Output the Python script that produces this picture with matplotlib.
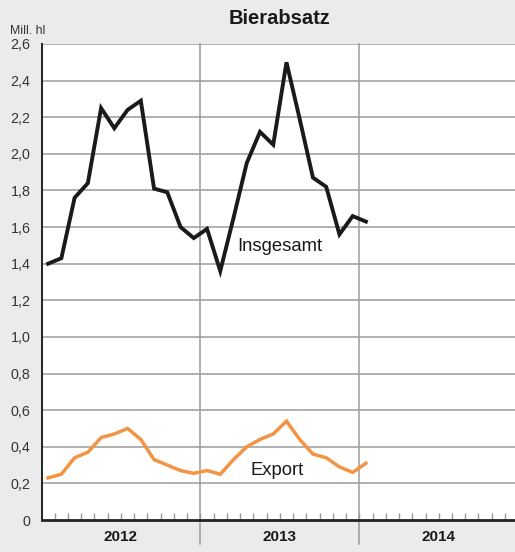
import matplotlib
matplotlib.use("Agg")
import matplotlib.pyplot as plt
import matplotlib.transforms as mtransforms

plt.rcParams['font.family'] = ['Liberation Sans', 'DejaVu Sans']

title = "Bierabsatz"
unit_label = "Mill. hl"
years = ["2012", "2013", "2014"]
insgesamt = [1.40, 1.43, 1.76, 1.84, 2.25, 2.14, 2.24, 2.29, 1.81, 1.79, 1.60, 1.54,
             1.59, 1.36, 1.65, 1.95, 2.12, 2.05, 2.50, 2.19, 1.87, 1.82, 1.56, 1.66,
             1.63]
export = [0.23, 0.25, 0.34, 0.37, 0.45, 0.47, 0.50, 0.44, 0.33, 0.30, 0.27, 0.255,
          0.27, 0.25, 0.33, 0.40, 0.44, 0.47, 0.54, 0.44, 0.36, 0.34, 0.29, 0.26,
          0.31]
y_ticks = [0, 0.2, 0.4, 0.6, 0.8, 1.0, 1.2, 1.4, 1.6, 1.8, 2.0, 2.2, 2.4, 2.6]
y_tick_labels = ["0", "0,2", "0,4", "0,6", "0,8", "1,0", "1,2", "1,4", "1,6", "1,8",
                 "2,0", "2,2", "2,4", "2,6"]
series_labels = ["Insgesamt", "Export"]

W, H = 515, 552
fig = plt.figure(figsize=(W / 100, H / 100), dpi=100)
bg = "#ebebed"
fig.patch.set_facecolor(bg)

left_px, top_px, bottom_px = 41.5, 44, 520
ax = fig.add_axes([left_px / W, (H - bottom_px) / H, (W - left_px) / W,
                   (bottom_px - top_px) / H])
ax.set_facecolor("white")
month_px = 158.9 / 12
ax.set_xlim(0, (W - left_px) / month_px)
ax.set_ylim(0, 2.6)

grid_c = "#9b9b9b"
for v in y_ticks[1:]:
    ax.axhline(v, color=grid_c, lw=1.1, zorder=1)

trans = mtransforms.blended_transform_factory(ax.transData, ax.transAxes)
for b in [12, 24]:
    ax.plot([b, b], [-0.05, 1], color=grid_c, lw=1.1, transform=trans,
            clip_on=False, zorder=1)

x = [i + 0.5 for i in range(len(insgesamt))]
ax.plot(x, insgesamt, color="#1a1a1a", lw=2.8, solid_joinstyle="miter", zorder=3)
ax.plot(x, export, color="#f39445", lw=2.5, solid_joinstyle="miter", zorder=3)

ax.text(14.77, 1.47, series_labels[0], fontsize=13.3, color="#1a1a1a",
        va="baseline", ha="left", zorder=4)
ax.text(15.8, 0.246, series_labels[1], fontsize=13.3, color="#1a1a1a",
        va="baseline", ha="left", zorder=4)

for s in ["top", "right"]:
    ax.spines[s].set_visible(False)
ax.spines["left"].set_color("#222222")
ax.spines["left"].set_linewidth(1.4)
ax.spines["bottom"].set_color("#222222")
ax.spines["bottom"].set_linewidth(2.0)
ax.spines["left"].set_zorder(5)
ax.spines["bottom"].set_zorder(5)

ax.set_yticks(y_ticks)
ax.set_yticklabels(y_tick_labels, fontsize=10.3, color="#333333")
ax.tick_params(axis="y", length=0, pad=8)

ax.set_xticks(range(1, 36), minor=True)
ax.set_xticks([])
ax.tick_params(axis="x", which="minor", direction="in", length=5, width=1,
               color="#999999")

for i, yr in enumerate(years):
    ax.text(12 * i + 6, -0.036, yr, transform=trans, ha="center", va="center",
            fontsize=11, fontweight="bold", color="#1a1a1a")

ax.text(-0.066, 1.022, unit_label, transform=ax.transAxes, fontsize=8.8,
        color="#333333", ha="left", va="baseline")
fig.text(280 / W, 1 - 18 / H, title, ha="center", va="center", fontsize=14.5,
         fontweight="bold", color="#1a1a1a")

fig.savefig("out.png", dpi=100, facecolor=bg)
